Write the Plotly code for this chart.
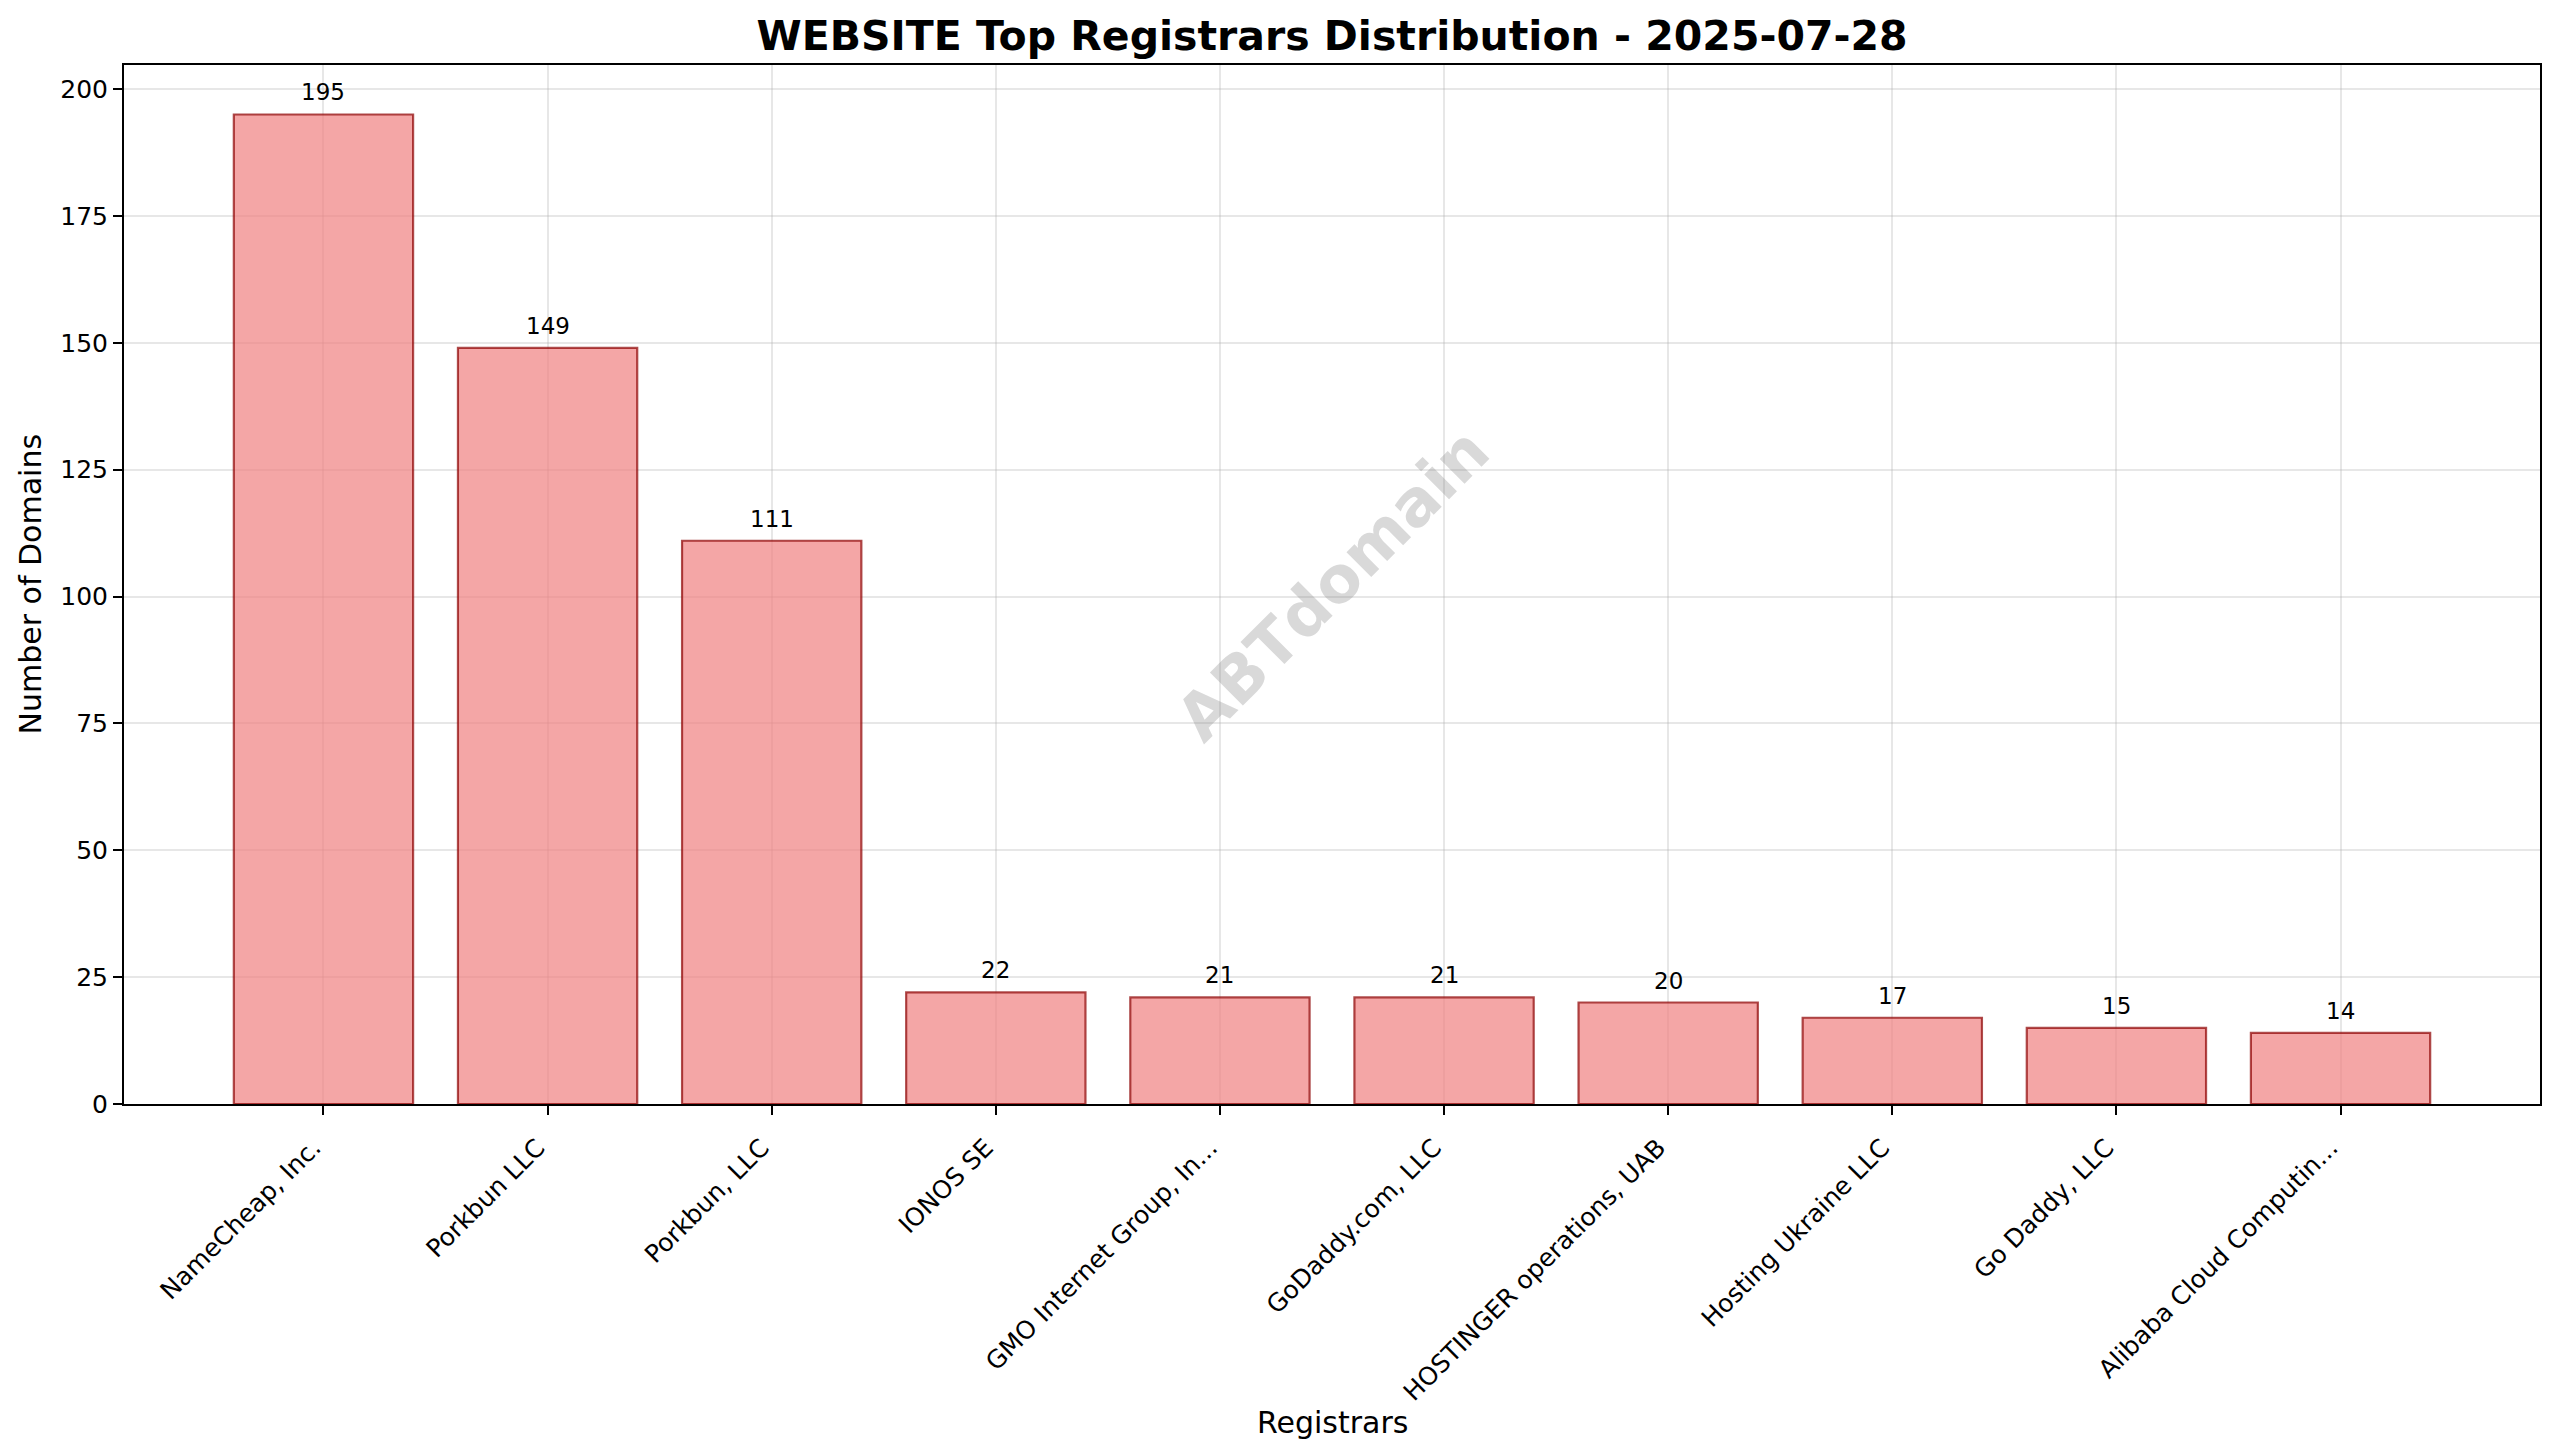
import plotly.graph_objects as go

registrars = ["NameCheap, Inc.", "Porkbun LLC", "Porkbun, LLC", "IONOS SE",
              "GMO Internet Group, In...", "GoDaddy.com, LLC", "HOSTINGER operations, UAB",
              "Hosting Ukraine LLC", "Go Daddy, LLC", "Alibaba Cloud Computin..."]
domains = [195, 149, 111, 22, 21, 21, 20, 17, 15, 14]
y_ticks = [0, 25, 50, 75, 100, 125, 150, 175, 200]

title_text = "WEBSITE Top Registrars Distribution - 2025-07-28"
FONT = "DejaVu Sans"

# page has an 8px body margin; compensate so the plot area lands where it should
OFF = 8
W, H = 2560 - OFF, 1456 - OFF
L, R, T, B = 124 - OFF, 20, 65 - OFF, 352
plot_bottom_page = 1104

fig = go.Figure()
fig.add_trace(go.Bar(
    x=list(range(len(registrars))), y=domains,
    width=0.8,
    marker=dict(color="rgba(240,128,128,0.7)",
                line=dict(color="rgba(139,0,0,0.7)", width=2.2)),
    hoverinfo="skip",
))

annotations = []
for i, v in enumerate(domains):
    annotations.append(dict(x=i, y=v, xref="x", yref="y", text=str(v), showarrow=False,
                            yanchor="bottom", xanchor="center", yshift=7,
                            font=dict(family=FONT, size=23, color="black")))

# watermark
annotations.append(dict(x=0.5, y=0.5, xref="paper", yref="paper", text="ABTdomain",
                        showarrow=False, textangle=-45, xanchor="center", yanchor="middle",
                        font=dict(family=FONT, size=64, color="rgba(128,128,128,0.3)", weight="bold")))
# axis titles
annotations.append(dict(x=0, y=0.5, xref="paper", yref="paper", text="Number of Domains",
                        showarrow=False, textangle=-90, xanchor="center", yanchor="middle",
                        xshift=-(124 - 30), font=dict(family=FONT, size=30, color="black")))
annotations.append(dict(x=0.5, y=0, xref="paper", yref="paper", text="Registrars",
                        showarrow=False, xanchor="center", yanchor="middle",
                        yshift=-(1422 - plot_bottom_page), font=dict(family=FONT, size=30, color="black")))

fig.update_layout(
    width=W, height=H,
    margin=dict(l=L, r=R, t=T, b=B, pad=0),
    paper_bgcolor="white", plot_bgcolor="white",
    showlegend=False,
    title=dict(text=title_text, x=(L + (W - R)) / 2 / W, xanchor="center",
               y=1 - (36 - OFF) / H, yanchor="middle", yref="container",
               font=dict(family=FONT, size=41, color="black", weight="bold")),
    annotations=annotations,
    font=dict(family=FONT, color="black"),
)

fig.update_xaxes(
    range=[-0.89, len(registrars) - 1 + 0.89],
    tickmode="array", tickvals=list(range(len(registrars))), ticktext=registrars,
    tickangle=-45, tickfont=dict(family=FONT, size=25, color="black"),
    ticklabelshift=-10, ticklabelstandoff=8,
    ticks="outside", ticklen=9, tickwidth=2, tickcolor="black",
    showline=True, linecolor="black", linewidth=2, mirror=True,
    showgrid=True, gridcolor="rgba(176,176,176,0.3)", gridwidth=2,
    zeroline=False,
)
fig.update_yaxes(
    range=[0, 204.75],
    tickmode="array", tickvals=y_ticks, ticktext=[str(t) for t in y_ticks],
    tickfont=dict(family=FONT, size=25, color="black"),
    ticks="outside", ticklen=9, tickwidth=2, tickcolor="black",
    showline=True, linecolor="black", linewidth=2, mirror=True,
    showgrid=True, gridcolor="rgba(176,176,176,0.3)", gridwidth=2,
    zeroline=False,
)

fig.write_html("out.html")
